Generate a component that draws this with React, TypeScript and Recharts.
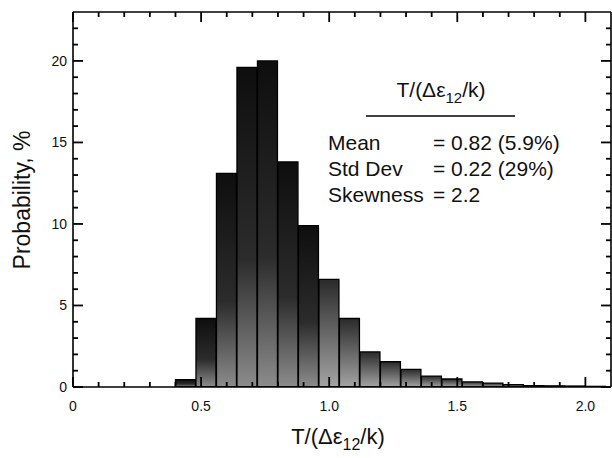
import React from 'react';
import { ComposedChart, Bar, XAxis, YAxis, Cell, ReferenceLine } from 'recharts';

const binStarts = [0.40, 0.48, 0.56, 0.64, 0.72, 0.80, 0.88, 0.96, 1.04, 1.12, 1.20, 1.28, 1.36, 1.44, 1.52, 1.60, 1.68, 1.76, 1.84, 1.92, 2.00];
const probability = [0.45, 4.2, 13.1, 19.6, 20.0, 13.8, 9.9, 6.6, 4.2, 2.15, 1.55, 1.08, 0.67, 0.49, 0.32, 0.24, 0.14, 0.09, 0.07, 0.06, 0.04];
const binWidth = 0.08;

const xTicks = [0, 0.1, 0.2, 0.3, 0.4, 0.5, 0.6, 0.7, 0.8, 0.9, 1.0, 1.1, 1.2, 1.3, 1.4, 1.5, 1.6, 1.7, 1.8, 1.9, 2.0];
const xMajor = [0, 0.5, 1.0, 1.5, 2.0];
const xMajorLabels = ['0', '0.5', '1.0', '1.5', '2.0'];
const yTicks = [0, 1, 2, 3, 4, 5, 6, 7, 8, 9, 10, 11, 12, 13, 14, 15, 16, 17, 18, 19, 20, 21, 22];
const yMajor = [0, 5, 10, 15, 20];
const yMajorLabels = ['0', '5', '10', '15', '20'];

const statNames = ['Mean', 'Std Dev', 'Skewness'];
const statValues = ['= 0.82 (5.9%)', '= 0.22 (29%)', '= 2.2'];

const data = binStarts.map((s, i) => ({ center: s + binWidth / 2, value: probability[i] }));

const FONT = '"Liberation Sans", Arial, Helvetica, sans-serif';
const X_DOMAIN: [number, number] = [0, 2.1];
const Y_DOMAIN: [number, number] = [0, 23];
const AXIS_LINE = { stroke: '#000', strokeWidth: 1.6 };
const MAJOR_LEN = 10;
const MINOR_LEN = 5;
const TICK_COLOR = '#000';
const TICK_WIDTH = 1.8;

const idx = (arr: number[], v: number) => arr.findIndex((m) => Math.abs(m - v) < 1e-6);

const BottomLabel = (props: any) => {
  const { x, y, payload } = props;
  const i = idx(xMajor, payload.value);
  if (i < 0) return null;
  return (
    <text x={x} y={y + 24} textAnchor="middle" fontSize={14} fontFamily={FONT} fill="#111">
      {xMajorLabels[i]}
    </text>
  );
};

const LeftLabel = (props: any) => {
  const { x, y, payload } = props;
  const i = idx(yMajor, payload.value);
  if (i < 0) return null;
  return (
    <text x={x - 6} y={y + 5} textAnchor="end" fontSize={14} fontFamily={FONT} fill="#111">
      {yMajorLabels[i]}
    </text>
  );
};

// Inward tick marks at both ends of a full-height / full-width reference line
const vTickShape = (len: number) => (p: any) => {
  const x = p.x1;
  const top = Math.min(p.y1, p.y2);
  const bot = Math.max(p.y1, p.y2);
  return (
    <g>
      <path d={`M${x},${bot}V${bot - len}`} stroke={TICK_COLOR} strokeWidth={TICK_WIDTH} fill="none" />
      <path d={`M${x},${top}V${top + len}`} stroke={TICK_COLOR} strokeWidth={TICK_WIDTH} fill="none" />
    </g>
  );
};
const hTickShape = (len: number) => (p: any) => {
  const y = p.y1;
  const l = Math.min(p.x1, p.x2);
  const r = Math.max(p.x1, p.x2);
  return (
    <g>
      <path d={`M${l},${y}H${l + len}`} stroke={TICK_COLOR} strokeWidth={TICK_WIDTH} fill="none" />
      <path d={`M${r},${y}H${r - len}`} stroke={TICK_COLOR} strokeWidth={TICK_WIDTH} fill="none" />
    </g>
  );
};

export default function App() {
  return (
    <div style={{ position: 'absolute', left: 0, top: 0, background: '#fff' }}>
      <ComposedChart
        width={612}
        height={458}
        data={data}
        margin={{ top: 11, right: 0, bottom: 0, left: 0 }}
        barCategoryGap={0}
        barGap={0}
      >
        <defs>
          <linearGradient id="barGrad" x1="0" y1="0" x2="0" y2="1">
            <stop offset="0%" stopColor="#0e0e0e" />
            <stop offset="60%" stopColor="#2c2c2c" />
            <stop offset="100%" stopColor="#8c8c8c" />
          </linearGradient>
          <linearGradient id="barGradLight" x1="0" y1="0" x2="0" y2="1">
            <stop offset="0%" stopColor="#2a2a2a" />
            <stop offset="100%" stopColor="#a4a4a4" />
          </linearGradient>
        </defs>

        <XAxis
          xAxisId="bottom"
          dataKey="center"
          type="number"
          domain={X_DOMAIN}
          ticks={xTicks}
          interval={0}
          orientation="bottom"
          height={71}
          tickSize={0}
          tickMargin={0}
          tickLine={false}
          axisLine={AXIS_LINE}
          tick={<BottomLabel />}
          allowDataOverflow
        />
        <XAxis
          xAxisId="top"
          dataKey="center"
          type="number"
          domain={X_DOMAIN}
          orientation="top"
          height={1}
          tickLine={false}
          axisLine={AXIS_LINE}
          tick={false}
          allowDataOverflow
        />
        <YAxis
          yAxisId="left"
          type="number"
          domain={Y_DOMAIN}
          ticks={yTicks}
          interval={0}
          orientation="left"
          width={73}
          tickSize={0}
          tickMargin={0}
          tickLine={false}
          axisLine={AXIS_LINE}
          tick={<LeftLabel />}
          allowDataOverflow
        />
        <YAxis
          yAxisId="right"
          type="number"
          domain={Y_DOMAIN}
          orientation="right"
          width={1}
          tickLine={false}
          axisLine={AXIS_LINE}
          tick={false}
          allowDataOverflow
        />

        <Bar
          dataKey="value"
          xAxisId="bottom"
          yAxisId="left"
          isAnimationActive={false}
          stroke="#000"
          strokeWidth={1.3}
        >
          {data.map((d, i) => (
            <Cell key={i} fill={d.center > 0.95 ? 'url(#barGradLight)' : 'url(#barGrad)'} />
          ))}
        </Bar>

        {xTicks.map((v) => (
          <ReferenceLine
            key={`xt${v}`}
            x={v}
            xAxisId="bottom"
            yAxisId="left"
            shape={vTickShape(idx(xMajor, v) >= 0 ? MAJOR_LEN : MINOR_LEN)}
          />
        ))}
        {yTicks.map((v) => (
          <ReferenceLine
            key={`yt${v}`}
            y={v}
            xAxisId="bottom"
            yAxisId="left"
            shape={hTickShape(idx(yMajor, v) >= 0 ? MAJOR_LEN : MINOR_LEN)}
          />
        ))}

        <text x={30} y={200} transform="rotate(-90 30 200)" textAnchor="middle" fontSize={23} fontFamily={FONT} fill="#111">
          Probability, %
        </text>
        <text x={338} y={444} textAnchor="middle" fontSize={22} fontFamily={FONT} fill="#111">
          T/(Δε<tspan dy={6} fontSize={16}>12</tspan><tspan dy={-6}>/k)</tspan>
        </text>
        <text x={441} y={97} textAnchor="middle" fontSize={21} fontFamily={FONT} fill="#111">
          T/(Δε<tspan dy={6} fontSize={15}>12</tspan><tspan dy={-6}>/k)</tspan>
        </text>
        <line x1={366} y1={116} x2={515} y2={116} stroke="#000" strokeWidth={1.5} />
        {statNames.map((n, i) => (
          <text key={n} x={328} y={150 + i * 26} fontSize={21} fontFamily={FONT} fill="#111">
            {n}
          </text>
        ))}
        {statValues.map((v, i) => (
          <text key={v} x={433} y={150 + i * 26} fontSize={21} fontFamily={FONT} fill="#111">
            {v}
          </text>
        ))}
      </ComposedChart>
    </div>
  );
}
